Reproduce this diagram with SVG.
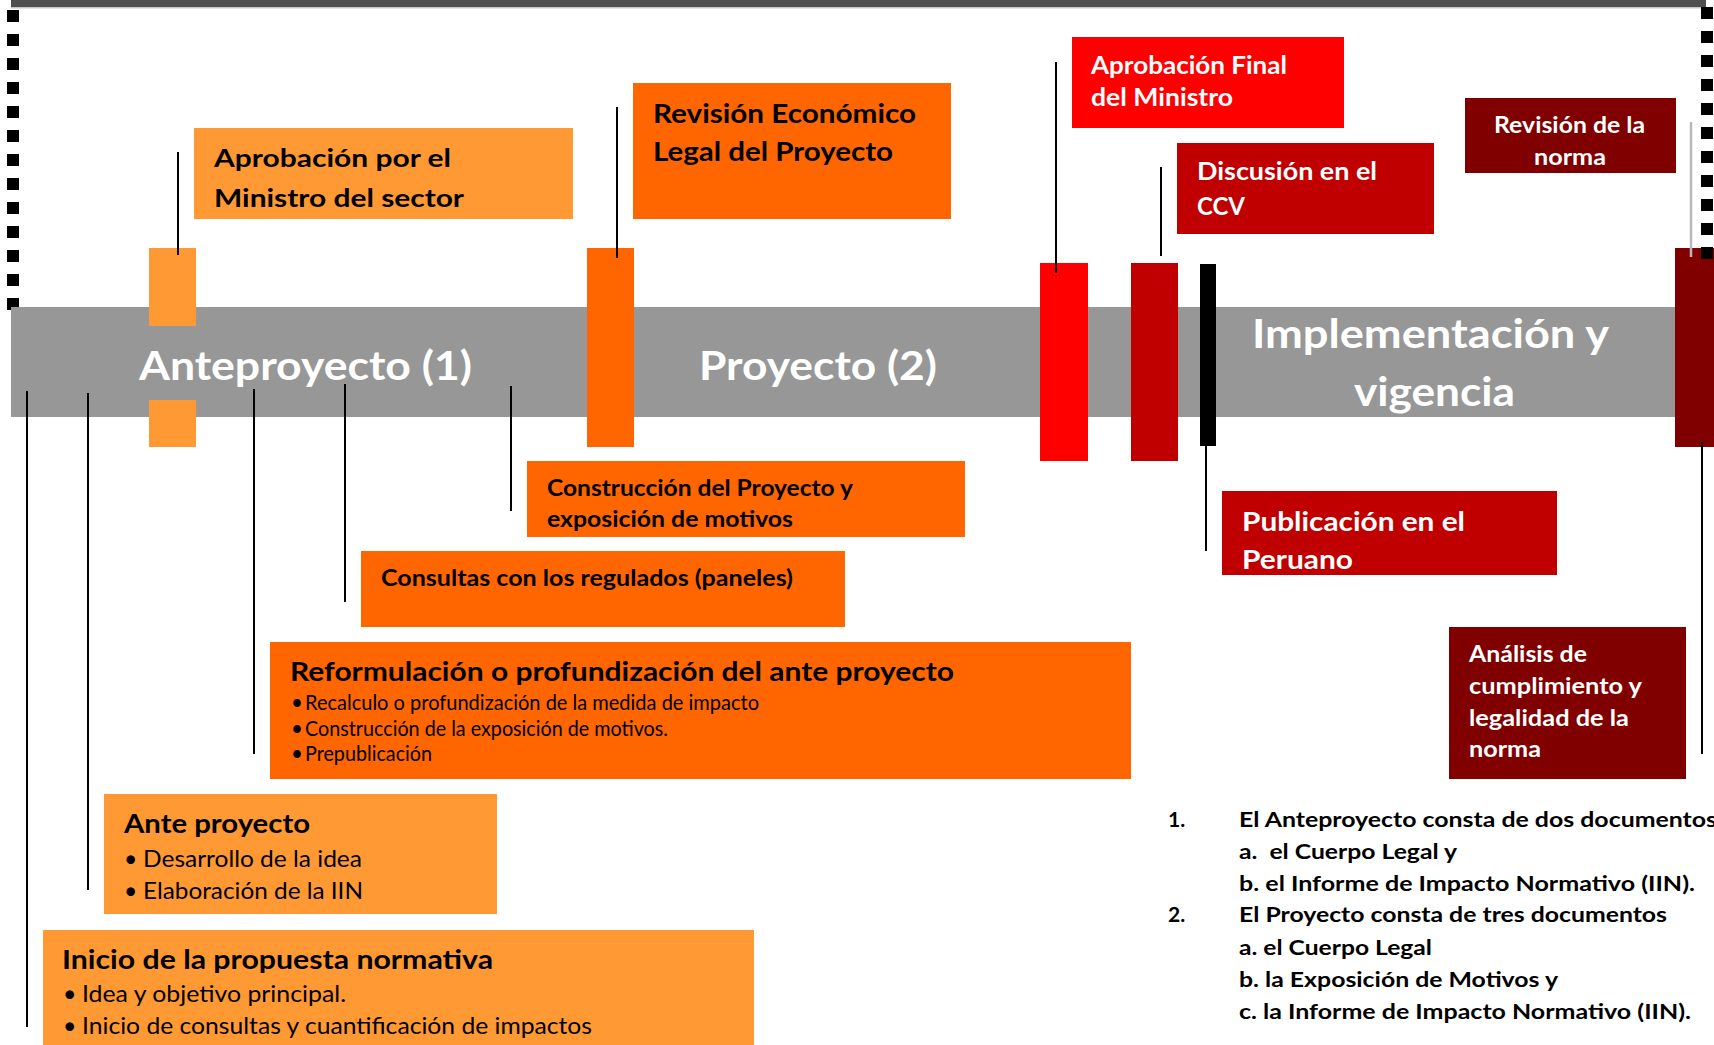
<svg xmlns="http://www.w3.org/2000/svg" width="1714" height="1045" viewBox="0 0 1714 1045">
<style>
text{font-family:Lato,"Open Sans","Liberation Sans",sans-serif;font-weight:700;fill:#000}
.w{fill:#fff}
.reg{font-weight:400}
.band{font-size:40.5px}
.c{stroke:#000;stroke-width:2;fill:none}
.cg{stroke:#b8b8b8;stroke-width:2.5;fill:none}
.dots{stroke:#000;stroke-width:12;stroke-dasharray:12 12;fill:none}
.lo{fill:#FF9933}.or{fill:#FF6600}.rd{fill:#FF0000}.dr{fill:#C00000}.mr{fill:#800000}
</style>
<rect width="1714" height="1045" fill="#fff"/>
<g id="frame">
<rect x="11" y="0" width="1695" height="7" fill="#4f4f4f"/>
<rect x="11" y="7" width="1695" height="1.5" fill="#c8c8c8"/>
<line class="dots" x1="13" y1="10" x2="13" y2="310"/>
</g>
<g id="band">
<rect x="11" y="307" width="1690" height="110" fill="#979797"/>
<text class="w band" x="139" y="380" textLength="333" lengthAdjust="spacingAndGlyphs">Anteproyecto (1)</text>
<text class="w band" x="699" y="380" textLength="238" lengthAdjust="spacingAndGlyphs">Proyecto (2)</text>
<text class="w band" x="1252" y="348" textLength="357" lengthAdjust="spacingAndGlyphs">Implementación y</text>
<text class="w band" x="1354" y="406" textLength="161" lengthAdjust="spacingAndGlyphs">vigencia</text>
</g>
<g id="bars">
<rect class="lo" x="149" y="248" width="47" height="78"/>
<rect class="lo" x="149" y="400" width="47" height="47"/>
<rect class="or" x="587" y="248" width="47" height="199"/>
<rect class="rd" x="1040" y="263" width="48" height="198"/>
<rect class="dr" x="1131" y="263" width="47" height="198"/>
<rect x="1200" y="264" width="16" height="182" fill="#000"/>
<rect class="mr" x="1675" y="248" width="39" height="199"/>
</g>
<g id="n-aprobacion-ministro-sector">
<rect class="lo" x="194" y="128" width="379" height="91"/>
<text x="214" y="167" font-size="25.5" textLength="237" lengthAdjust="spacingAndGlyphs">Aprobación por el</text>
<text x="214" y="207" font-size="25.5" textLength="250" lengthAdjust="spacingAndGlyphs">Ministro del sector</text>
</g>
<g id="n-revision-economico">
<rect class="or" x="633" y="83" width="318" height="136"/>
<text x="653" y="123" font-size="26.5" textLength="263" lengthAdjust="spacingAndGlyphs">Revisión Económico</text>
<text x="653" y="161" font-size="26.5" textLength="240" lengthAdjust="spacingAndGlyphs">Legal del Proyecto</text>
</g>
<g id="n-aprobacion-final">
<rect class="rd" x="1072" y="37" width="272" height="91"/>
<text class="w" x="1091" y="74" font-size="24.5" textLength="196" lengthAdjust="spacingAndGlyphs">Aprobación Final</text>
<text class="w" x="1091" y="106" font-size="24.5" textLength="142" lengthAdjust="spacingAndGlyphs">del Ministro</text>
</g>
<g id="n-discusion-ccv">
<rect class="dr" x="1177" y="143" width="257" height="91"/>
<text class="w" x="1197" y="180" font-size="25" textLength="180" lengthAdjust="spacingAndGlyphs">Discusión en el</text>
<text class="w" x="1197" y="215" font-size="25" textLength="48" lengthAdjust="spacingAndGlyphs">CCV</text>
</g>
<g id="n-revision-norma">
<rect class="mr" x="1465" y="98" width="211" height="75"/>
<text class="w" x="1494" y="133" font-size="23.5" textLength="151" lengthAdjust="spacingAndGlyphs">Revisión de la</text>
<text class="w" x="1534" y="165" font-size="23.5" textLength="72" lengthAdjust="spacingAndGlyphs">norma</text>
</g>
<g id="n-publicacion">
<rect class="dr" x="1222" y="491" width="335" height="84"/>
<text class="w" x="1242" y="531" font-size="27" textLength="223" lengthAdjust="spacingAndGlyphs">Publicación en el</text>
<text class="w" x="1242" y="569" font-size="27" textLength="111" lengthAdjust="spacingAndGlyphs">Peruano</text>
</g>
<g id="n-analisis">
<rect class="mr" x="1449" y="627" width="237" height="152"/>
<text class="w" x="1469" y="662" font-size="23" textLength="118" lengthAdjust="spacingAndGlyphs">Análisis de</text>
<text class="w" x="1469" y="694" font-size="23" textLength="173" lengthAdjust="spacingAndGlyphs">cumplimiento y</text>
<text class="w" x="1469" y="726" font-size="23" textLength="160" lengthAdjust="spacingAndGlyphs">legalidad de la</text>
<text class="w" x="1469" y="757" font-size="23" textLength="72" lengthAdjust="spacingAndGlyphs">norma</text>
</g>
<g id="n-construccion">
<rect class="or" x="527" y="461" width="438" height="76"/>
<text x="547" y="496" font-size="22.5" textLength="306" lengthAdjust="spacingAndGlyphs">Construcción del Proyecto y</text>
<text x="547" y="527" font-size="22.5" textLength="246" lengthAdjust="spacingAndGlyphs">exposición de motivos</text>
</g>
<g id="n-consultas">
<rect class="or" x="361" y="551" width="484" height="76"/>
<text x="381" y="586" font-size="23" textLength="412" lengthAdjust="spacingAndGlyphs">Consultas con los regulados (paneles)</text>
</g>
<g id="n-reformulacion">
<rect class="or" x="270" y="642" width="861" height="137"/>
<text x="290" y="681" font-size="26" textLength="664" lengthAdjust="spacingAndGlyphs">Reformulación o profundización del ante proyecto</text>
<text class="reg" x="291" y="710" font-size="20.5">•</text>
<text class="reg" x="305" y="710" font-size="20.5" textLength="454" lengthAdjust="spacingAndGlyphs">Recalculo o profundización de la medida de impacto</text>
<text class="reg" x="291" y="736" font-size="20.5">•</text>
<text class="reg" x="305" y="736" font-size="20.5" textLength="363" lengthAdjust="spacingAndGlyphs">Construcción de la exposición de motivos.</text>
<text class="reg" x="291" y="761" font-size="20.5">•</text>
<text class="reg" x="305" y="761" font-size="20.5" textLength="127" lengthAdjust="spacingAndGlyphs">Prepublicación</text>
</g>
<g id="n-ante-proyecto">
<rect class="lo" x="104" y="794" width="393" height="120"/>
<text x="124" y="833" font-size="26" textLength="186" lengthAdjust="spacingAndGlyphs">Ante proyecto</text>
<text class="reg" x="124" y="867" font-size="23">•</text>
<text class="reg" x="143" y="867" font-size="23" textLength="219" lengthAdjust="spacingAndGlyphs">Desarrollo de la idea</text>
<text class="reg" x="124" y="899" font-size="23">•</text>
<text class="reg" x="143" y="899" font-size="23" textLength="220" lengthAdjust="spacingAndGlyphs">Elaboración de la IIN</text>
</g>
<g id="n-inicio">
<rect class="lo" x="43" y="930" width="711" height="115"/>
<text x="62" y="969" font-size="26" textLength="431" lengthAdjust="spacingAndGlyphs">Inicio de la propuesta normativa</text>
<text class="reg" x="63" y="1002" font-size="23">•</text>
<text class="reg" x="82" y="1002" font-size="23" textLength="264" lengthAdjust="spacingAndGlyphs">Idea y objetivo principal.</text>
<text class="reg" x="63" y="1034" font-size="23">•</text>
<text class="reg" x="82" y="1034" font-size="23" textLength="510" lengthAdjust="spacingAndGlyphs">Inicio de consultas y cuantificación de impactos</text>
</g>
<g id="notes" font-size="21">
<text x="1168" y="827">1.</text>
<text x="1239" y="827" textLength="478" lengthAdjust="spacingAndGlyphs">El Anteproyecto consta de dos documentos</text>
<text x="1239" y="859" textLength="218" lengthAdjust="spacingAndGlyphs">a.&#160; el Cuerpo Legal y</text>
<text x="1239" y="891" textLength="456" lengthAdjust="spacingAndGlyphs">b. el Informe de Impacto Normativo (IIN).</text>
<text x="1168" y="922">2.</text>
<text x="1239" y="922" textLength="428" lengthAdjust="spacingAndGlyphs">El Proyecto consta de tres documentos</text>
<text x="1239" y="955" textLength="193" lengthAdjust="spacingAndGlyphs">a. el Cuerpo Legal</text>
<text x="1239" y="987" textLength="319" lengthAdjust="spacingAndGlyphs">b. la Exposición de Motivos y</text>
<text x="1239" y="1019" textLength="452" lengthAdjust="spacingAndGlyphs">c. la Informe de Impacto Normativo (IIN).</text>
</g>
<g id="connectors">
<line class="c" x1="27" y1="391" x2="27" y2="1027"/>
<line class="c" x1="88" y1="393" x2="88" y2="890"/>
<line class="c" x1="254" y1="389" x2="254" y2="754"/>
<line class="c" x1="345" y1="384" x2="345" y2="602"/>
<line class="c" x1="511" y1="386" x2="511" y2="511"/>
<line class="c" x1="178" y1="152" x2="178" y2="255"/>
<line class="c" x1="617" y1="107" x2="617" y2="258"/>
<line class="c" x1="1056" y1="62" x2="1056" y2="273"/>
<line class="c" x1="1161" y1="167" x2="1161" y2="256"/>
<line class="c" x1="1206" y1="446" x2="1206" y2="551"/>
<line class="cg" x1="1691" y1="122" x2="1691" y2="257"/>
<line class="c" x1="1702" y1="442" x2="1702" y2="754"/>
</g>
<g id="frame-right">
<line class="dots" x1="1707" y1="7" x2="1707" y2="259"/>
</g>
</svg>
